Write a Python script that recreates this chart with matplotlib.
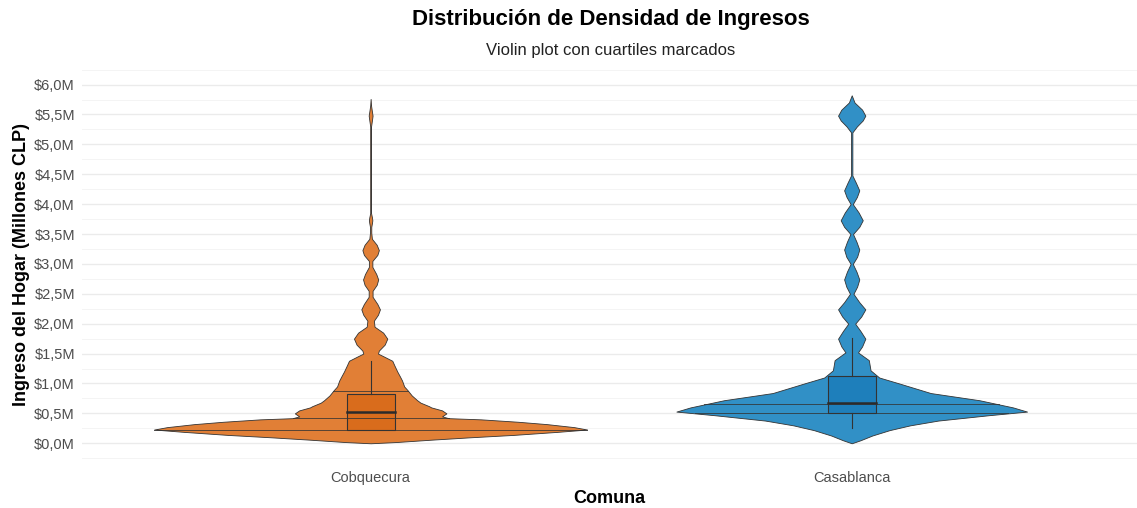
import numpy as np
import matplotlib.pyplot as plt

plt.rcParams['font.family'] = ['Liberation Sans', 'DejaVu Sans']

comunas = ['Cobquecura', 'Casablanca']

# violin outline: income level (M CLP) and relative density (1 = widest violin)
cobq_y = [0.00, 0.02, 0.06, 0.10, 0.14, 0.19, 0.23, 0.27, 0.32, 0.36, 0.40, 0.42,
          0.45, 0.50, 0.55, 0.60, 0.62, 0.68, 0.72, 0.80, 0.89, 0.95, 1.05, 1.12,
          1.20, 1.30, 1.38, 1.45, 1.50, 1.55, 1.65, 1.75, 1.85, 1.95, 2.05, 2.15,
          2.24, 2.33, 2.45, 2.55, 2.65, 2.74, 2.83, 2.95, 3.05, 3.15, 3.23, 3.32,
          3.42, 3.52, 3.62, 3.68, 3.73, 3.78, 3.85, 5.30, 5.40, 5.48, 5.55, 5.65, 5.76]
cobq_dens = [0.0, 0.115, 0.28, 0.46, 0.66, 0.86, 1.0, 0.94, 0.815, 0.68, 0.51, 0.36,
             0.33, 0.35, 0.33, 0.28, 0.27, 0.23, 0.215, 0.19, 0.17, 0.155, 0.145, 0.135,
             0.123, 0.11, 0.10, 0.062, 0.034, 0.038, 0.065, 0.077, 0.058, 0.018, 0.015, 0.034,
             0.043, 0.031, 0.009, 0.009, 0.028, 0.035, 0.026, 0.008, 0.008, 0.031, 0.038, 0.028,
             0.006, 0.003, 0.003, 0.006, 0.008, 0.006, 0.002, 0.002, 0.006, 0.009, 0.006, 0.002, 0.0]

casa_y = [0.00, 0.05, 0.13, 0.22, 0.30, 0.38, 0.47, 0.53, 0.60, 0.72, 0.84, 1.00,
          1.10, 1.22, 1.39, 1.52, 1.62, 1.75, 1.88, 2.00, 2.12, 2.24, 2.36, 2.50,
          2.62, 2.74, 2.87, 3.00, 3.12, 3.24, 3.37, 3.50, 3.62, 3.73, 3.86, 4.00,
          4.12, 4.23, 4.36, 4.48, 4.80, 5.20, 5.30, 5.40, 5.48, 5.58, 5.70, 5.82]
casa_dens = [0.0, 0.04, 0.095, 0.175, 0.27, 0.40, 0.635, 0.81, 0.745, 0.59, 0.365, 0.22,
             0.127, 0.087, 0.079, 0.029, 0.048, 0.063, 0.04, 0.016, 0.044, 0.063, 0.035, 0.008,
             0.025, 0.035, 0.022, 0.005, 0.025, 0.035, 0.022, 0.006, 0.035, 0.051, 0.032, 0.005,
             0.024, 0.035, 0.019, 0.003, 0.003, 0.003, 0.024, 0.051, 0.063, 0.048, 0.013, 0.0]

# boxplot stats (q1, median, q3, lower whisker, upper whisker)
cobq_box = [0.22, 0.52, 0.82, 0.22, 1.38]
casa_box = [0.51, 0.68, 1.13, 0.25, 1.76]

# violin quantile lines
cobq_q = [0.23, 0.42, 0.87]
casa_q = [0.50, 0.65]

violin_colors = ['#E17F36', '#3190C6']
box_colors = ['#D96C1C', '#1E7FBB']
edge = '#333333'

profiles = [(cobq_y, cobq_dens), (casa_y, casa_dens)]
boxes = [cobq_box, casa_box]
quants = [cobq_q, casa_q]

fig = plt.figure(figsize=(11.37, 5.08), dpi=100)
ax = fig.add_axes([0.0721, 0.0921, 0.9279, 0.7744])

half_max = 0.45
box_w = 0.1
for i, ((yy, dd), bx, qs) in enumerate(zip(profiles, boxes, quants)):
    pos = i + 1
    yy = np.array(yy)
    hw = np.array(dd) * half_max
    ax.fill_betweenx(yy, pos - hw, pos + hw, facecolor=violin_colors[i],
                     edgecolor=edge, linewidth=0.6, zorder=2)
    q1, med, q3, lo, hi = bx
    ax.add_patch(plt.Rectangle((pos - box_w / 2, q1), box_w, q3 - q1,
                               facecolor=box_colors[i], edgecolor=edge,
                               linewidth=0.8, zorder=3))
    ax.plot([pos, pos], [q3, hi], color=edge, lw=0.8, zorder=3)
    if lo < q1:
        ax.plot([pos, pos], [lo, q1], color=edge, lw=0.8, zorder=3)
    ax.plot([pos - box_w / 2, pos + box_w / 2], [med, med], color='#2b2b2b', lw=1.8, zorder=4)
    for q in qs:
        w = np.interp(q, yy, hw)
        ax.plot([pos - w, pos + w], [q, q], color=edge, lw=0.7, alpha=0.8, zorder=4)

ax.set_xlim(0.4, 2.593)
ax.set_ylim(-0.3, 6.28)
ax.set_xticks([1, 2])
ax.set_xticklabels(comunas)
yt = np.arange(0, 6.01, 0.5)
ax.set_yticks(yt)
ax.set_yticklabels(['$%sM' % ('%.1f' % v).replace('.', ',') for v in yt])
ax.set_yticks(np.arange(-0.25, 6.3, 0.5), minor=True)
ax.grid(axis='y', which='major', color='#EBEBEB', lw=1.0, zorder=0)
ax.grid(axis='y', which='minor', color='#F2F2F2', lw=0.6, zorder=0)
ax.set_axisbelow(True)
for s in ax.spines.values():
    s.set_visible(False)
ax.tick_params(axis='both', which='both', length=0, labelsize=10.5, labelcolor='#4D4D4D')
ax.tick_params(axis='y', pad=5)
ax.tick_params(axis='x', pad=7)

ax.set_xlabel('Comuna', fontsize=13, fontweight='bold', labelpad=4)
ax.set_ylabel('Ingreso del Hogar (Millones CLP)', fontsize=13, fontweight='bold', labelpad=3)

fig.text(0.5374, 0.961, 'Distribución de Densidad de Ingresos', ha='center', va='center',
         fontsize=16, fontweight='bold')
fig.text(0.5374, 0.901, 'Violin plot con cuartiles marcados', ha='center', va='center',
         fontsize=12, color='#222222')

fig.savefig('out.png', dpi=100)
